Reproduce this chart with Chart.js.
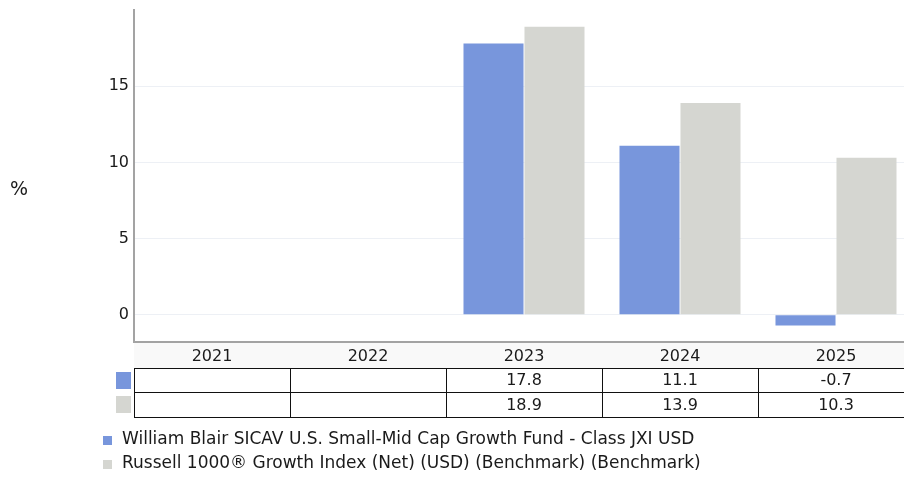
<!DOCTYPE html>
<html>
<head>
<meta charset="utf-8">
<script src="https://cdn.jsdelivr.net/npm/chart.js@4.4.1/dist/chart.umd.min.js"></script>
<style>
  html, body { margin: 0; padding: 0; background: #fff; overflow: hidden; }
  #wrap { width: 914px; height: 477px; }
</style>
</head>
<body>
<div id="wrap"><canvas id="chart" width="914" height="477"></canvas></div>
<script>
// data
const years = ['2021', '2022', '2023', '2024', '2025'];
const fundValues = [null, null, 17.8, 11.1, -0.7];
const benchValues = [null, null, 18.9, 13.9, 10.3];
const seriesNames = [
    'William Blair SICAV U.S. Small-Mid Cap Growth Fund - Class JXI USD',
    'Russell 1000® Growth Index (Net) (USD) (Benchmark) (Benchmark)'
];
const seriesColors = ['#7896dc', '#d5d6d1'];
const yTickValues = [0, 5, 10, 15];

const FONT = "'DejaVu Sans', sans-serif";
const TEXT = '#1a1a1a';

// table under the plot + legend at the bottom
const tablePlugin = {
    id: 'tableAndLegend',
    afterDraw(chart) {
        const ctx = chart.ctx;
        const area = chart.chartArea;
        const xScale = chart.scales.x;
        const colW = (area.right - area.left) / years.length;
        const headTop = area.bottom + 1;
        const rowLines = [368, 392, 417];
        const rows = [fundValues, benchValues];

        ctx.save();
        // header band
        ctx.fillStyle = '#f9f9f9';
        ctx.fillRect(area.left, headTop, area.right - area.left, rowLines[0] - headTop);

        ctx.font = '16px ' + FONT;
        ctx.fillStyle = TEXT;
        ctx.textAlign = 'center';
        ctx.textBaseline = 'middle';
        years.forEach((y, i) => {
            ctx.fillText(y, xScale.getPixelForValue(i), 357);
        });

        // grid of the table
        ctx.strokeStyle = '#111';
        ctx.lineWidth = 1;
        ctx.beginPath();
        rowLines.forEach(ly => {
            ctx.moveTo(area.left, ly + 0.5);
            ctx.lineTo(area.right, ly + 0.5);
        });
        for (let i = 0; i <= years.length; i++) {
            const lx = Math.round(area.left + i * colW) + 0.5;
            ctx.moveTo(lx, rowLines[0]);
            ctx.lineTo(lx, rowLines[2] + 1);
        }
        ctx.stroke();

        rows.forEach((vals, r) => {
            const cy = (rowLines[r] + rowLines[r + 1]) / 2 + 1;
            ctx.fillStyle = seriesColors[r];
            ctx.fillRect(116, rowLines[r] + 4, 15, 17);
            ctx.fillStyle = TEXT;
            vals.forEach((v, i) => {
                if (v === null) return;
                ctx.fillText(v.toFixed(1), xScale.getPixelForValue(i), cy);
            });
        });

        // bottom legend
        ctx.font = '17px ' + FONT;
        ctx.textAlign = 'left';
        seriesNames.forEach((name, r) => {
            const cy = 440 + r * 24;
            ctx.fillStyle = seriesColors[r];
            ctx.fillRect(103, cy - 4, 9, 9);
            ctx.fillStyle = TEXT;
            ctx.fillText(name, 122, cy);
        });

        // unit label
        ctx.font = '19px ' + FONT;
        ctx.textAlign = 'center';
        ctx.fillText('%', 19, 190);
        ctx.restore();
    }
};

const data = {
    labels: years,
    datasets: [
        {
            label: seriesNames[0],
            data: fundValues,
            backgroundColor: seriesColors[0],
            borderWidth: 0,
        },
        {
            label: seriesNames[1],
            data: benchValues,
            backgroundColor: seriesColors[1],
            borderWidth: 0,
        },
    ]
};

const config = {
    type: 'bar',
    data: data,
    options: {
        responsive: false,
        animation: false,
        layout: {
            padding: { top: 10, bottom: 135, left: 0, right: 0 }
        },
        datasets: {
            bar: {
                categoryPercentage: 0.782,
                barPercentage: 0.984,
            }
        },
        scales: {
            x: {
                grid: { display: false },
                ticks: { display: false },
                border: { display: true, color: '#a3a3a3', width: 2 },
                afterFit: (scale) => {
                    scale.height = 0;
                    scale.paddingLeft = 0;
                    scale.paddingRight = 0;
                },
            },
            y: {
                min: -1.78,
                max: 20,
                afterBuildTicks: (scale) => {
                    scale.ticks = yTickValues.map(v => ({ value: v }));
                },
                grid: {
                    color: '#edf0f5',
                    drawTicks: false,
                },
                border: { display: true, color: '#a3a3a3', width: 2 },
                ticks: {
                    color: TEXT,
                    padding: 5,
                    font: { family: FONT, size: 16 },
                },
                afterFit: (scale) => {
                    scale.width = 134;
                    scale.paddingTop = 0;
                    scale.paddingBottom = 0;
                },
            }
        },
        plugins: {
            legend: { display: false },
            tooltip: { enabled: false },
        },
    },
    plugins: [tablePlugin],
};

new Chart(document.getElementById('chart').getContext('2d'), config);
</script>
</body>
</html>
